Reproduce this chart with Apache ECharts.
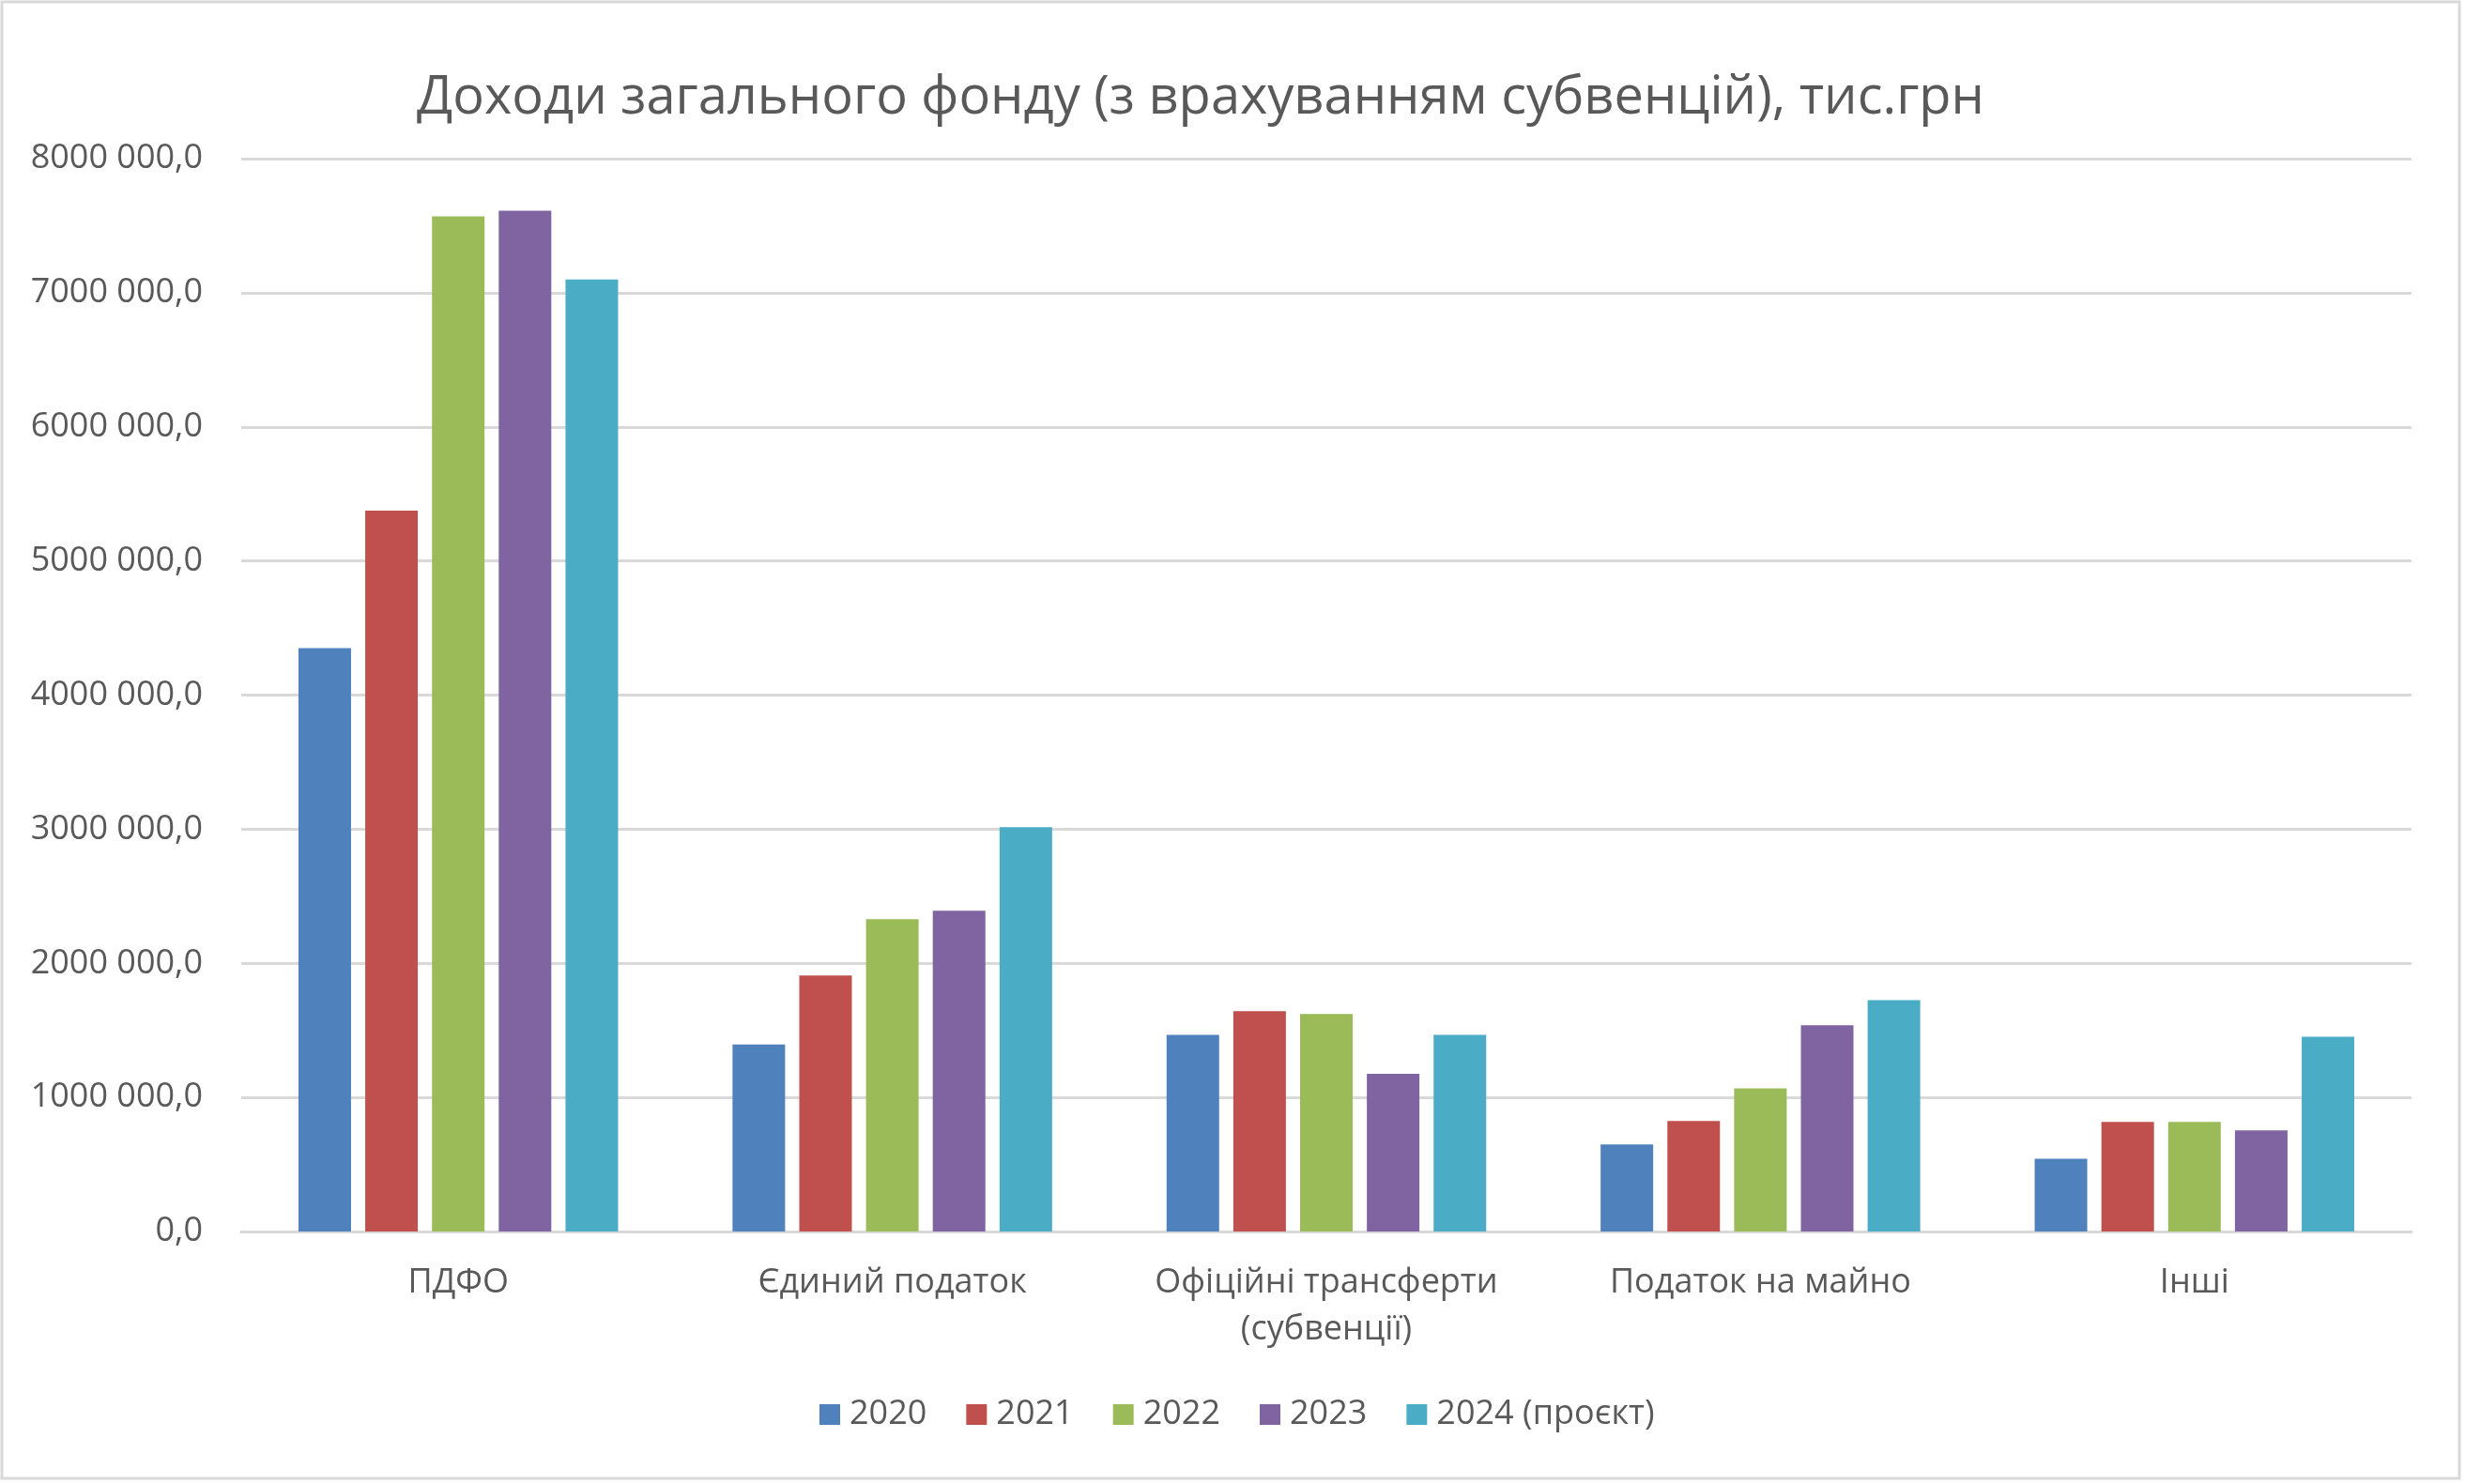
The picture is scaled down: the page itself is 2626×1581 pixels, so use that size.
<!DOCTYPE html>
<html>
<head>
<meta charset="utf-8">
<script src="https://cdn.jsdelivr.net/npm/echarts@6.0.0/dist/echarts.min.js"></script>
<style>
  html, body { margin: 0; padding: 0; background: #fff; }
  #chart { width: 2626px; height: 1581px; }
</style>
</head>
<body>
<div id="chart"></div>
<script>
// categories and yearly values, тис.грн
var categories = ['ПДФО', 'Єдиний податок', 'Офіційні трансферти\n(субвенції)', 'Податок на майно', 'Інші'];
var years = ['2020', '2021', '2022', '2023', '2024 (проєкт)'];
var v2020 = [4350000, 1395000, 1466000, 650000, 543000];
var v2021 = [5375000, 1909000, 1643000, 825000, 818000];
var v2022 = [7569000, 2329000, 1622000, 1068000, 818000];
var v2023 = [7611000, 2392000, 1175000, 1538000, 755000];
var v2024 = [7098000, 3014000, 1466000, 1725000, 1452000];
var colors = ['#4F81BD', '#C0504D', '#9BBB59', '#8064A2', '#4BACC6'];

var chart = echarts.init(document.getElementById('chart'));
var font = '"Open Sans", sans-serif';
var textColor = '#595959';

function fmt(v) {
    if (v === 0) return '0,0';
    var rest = String(v % 1000);
    while (rest.length < 3) rest = '0' + rest;
    return Math.floor(v / 1000) + ' ' + rest + ',0';
}

var allValues = [v2020, v2021, v2022, v2023, v2024];
var series = years.map(function (y, i) {
    return {
        name: y,
        type: 'bar',
        data: allValues[i],
        barWidth: 56,
        barGap: '27%',
        itemStyle: { color: colors[i] }
    };
});

var option = {
    backgroundColor: '#fff',
    animation: false,
    color: colors,
    title: {
        text: 'Доходи загального фонду (з врахуванням субвенцій), тис.грн',
        left: 439,
        top: 72,
        textStyle: { fontFamily: font, fontSize: 56, fontWeight: 'normal', color: textColor }
    },
    legend: {
        data: years,
        left: 868,
        top: 1484,
        itemWidth: 22,
        itemHeight: 22,
        itemGap: 42,
        icon: 'rect',
        textStyle: { fontFamily: font, fontSize: 36, color: textColor, padding: [0, 0, 0, 5] }
    },
    grid: { left: 257, right: 57, top: 169, bottom: 269 },
    xAxis: {
        type: 'category',
        data: categories,
        axisLine: { lineStyle: { color: '#d9d9d9', width: 3 } },
        axisTick: { show: false },
        axisLabel: {
            fontFamily: font, fontSize: 36, color: textColor,
            lineHeight: 50, margin: 30, interval: 0
        }
    },
    yAxis: {
        type: 'value',
        min: 0,
        max: 8000000,
        interval: 1000000,
        axisLine: { show: false },
        axisTick: { show: false },
        splitLine: { lineStyle: { color: '#d9d9d9', width: 3 } },
        axisLabel: {
            fontFamily: font, fontSize: 36, color: textColor, margin: 41,
            formatter: fmt
        }
    },
    graphic: [{
        type: 'rect',
        shape: { x: 2, y: 2, width: 2618, height: 1573 },
        style: { fill: 'none', stroke: '#d9d9d9', lineWidth: 3 },
        silent: true
    }],
    series: series
};

chart.setOption(option);
</script>
</body>
</html>
